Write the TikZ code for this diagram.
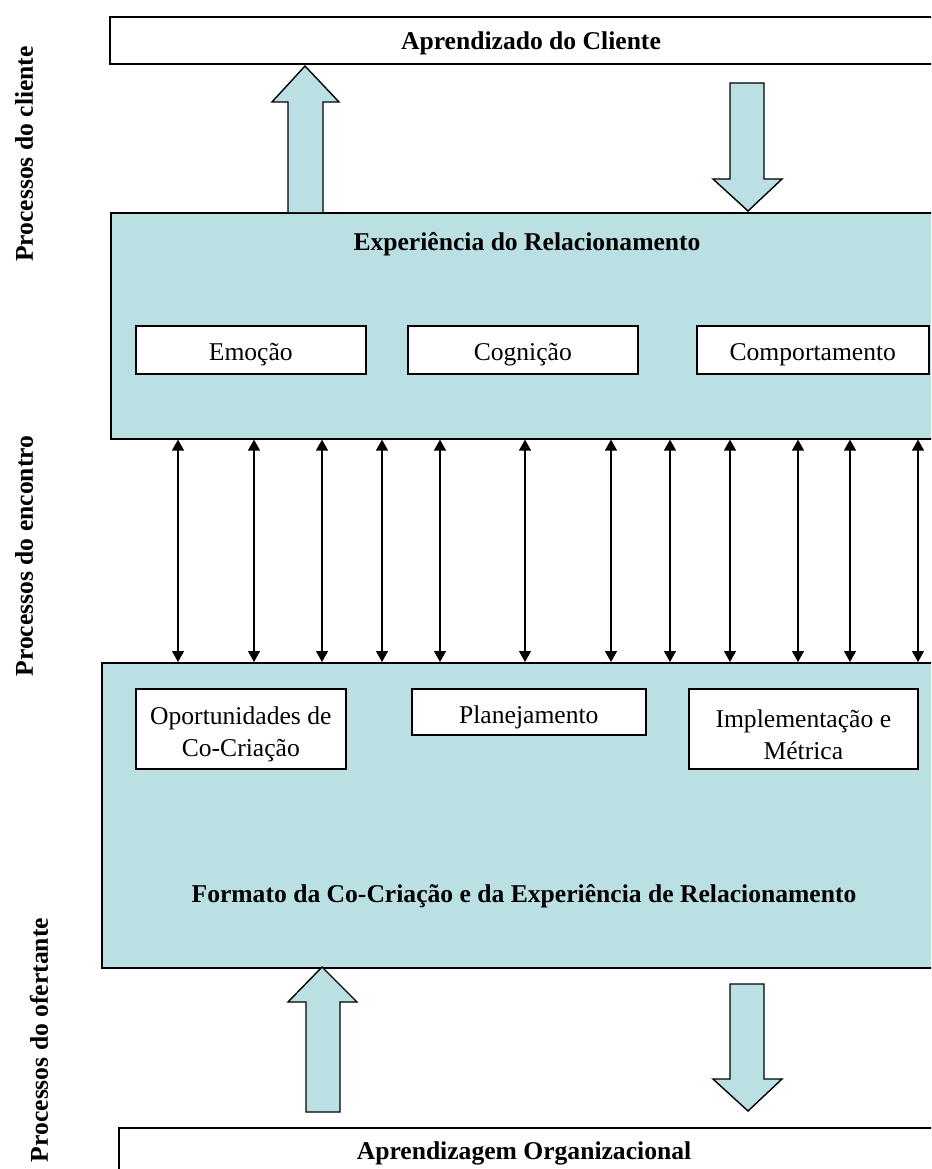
\documentclass[tikz,border=0pt]{standalone}
\usepackage{fontspec}
\setmainfont{Liberation Serif}
\usetikzlibrary{arrows.meta}
\definecolor{panelblue}{RGB}{186,224,228}
\tikzset{
  boxline/.style={draw=black, line width=1.6pt},
  panel/.style={boxline, fill=panelblue, anchor=north west, inner sep=0pt},
  whitebox/.style={boxline, fill=white, anchor=north west, inner sep=0pt},
  lbl/.style={font=\fontsize{25.6}{32}\selectfont, align=center, inner sep=0pt},
  blbl/.style={lbl, font=\fontsize{25.6}{32}\selectfont\bfseries},
  blockarrow/.style={draw=black, line width=1.4pt, fill=panelblue, line join=miter},
  dbl/.style={line width=1.3pt, {Triangle[length=11pt,width=12pt]}-{Triangle[length=11pt,width=12pt]}},
}
\begin{document}
\begin{tikzpicture}[x=1pt,y=-1pt]
\useasboundingbox (0,0) rectangle (931,1169);
\clip (0,0) rectangle (931,1169);
\fill[white] (0,0) rectangle (931,1169);

% big boxes
\node[whitebox, minimum width=850pt, minimum height=47pt] (top) at (109,16) {};
\node[panel, minimum width=850pt, minimum height=226pt] (exp) at (110,212) {};
\node[panel, minimum width=860pt, minimum height=305pt] (fmt) at (101,662) {};
\node[whitebox, minimum width=850pt, minimum height=80pt] (bot) at (118,1127) {};

% titles
\node[blbl] (topt) at (531,43) {Aprendizado do Cliente};
\node[blbl] (expt) at (527,244) {Experiência do Relacionamento};
\node[blbl] (fmtt) at (524,896) {Formato da Co-Criação e da Experiência de Relacionamento};
\node[blbl] (bott) at (524,1153) {Aprendizagem Organizacional};

% inner boxes of experience
\node[whitebox, minimum width=230pt, minimum height=48pt] (emo) at (135,325) {};
\node[lbl] at ([yshift=-5pt]emo.center) {Emoção};
\node[whitebox, minimum width=230pt, minimum height=48pt] (cog) at (407,325) {};
\node[lbl] at ([yshift=-5pt]cog.center) {Cognição};
\node[whitebox, minimum width=232pt, minimum height=48pt] (com) at (696,325) {};
\node[lbl] at ([yshift=-5pt]com.center) {Comportamento};

% inner boxes of format
\node[whitebox, minimum width=210pt, minimum height=80pt] (opo) at (135,688) {};
\node[lbl] at ([yshift=-6pt]opo.center) {Oportunidades de\\Co-Criação};
\node[whitebox, minimum width=234pt, minimum height=46pt] (pla) at (411,688) {};
\node[lbl] at ([yshift=-6pt]pla.center) {Planejamento};
\node[whitebox, minimum width=229pt, minimum height=80pt] (imp) at (688,688) {};
\node[lbl] at ([yshift=-6pt]imp.center) {Implementação e\\Métrica};

% side labels
\node[blbl, rotate=90] (s1) at (24,154) {Processos do cliente};
\node[blbl, rotate=90] (s2) at (24,556) {Processos do encontro};
\node[blbl, rotate=90] (s3) at (39,1040) {Processos do ofertante};

% double arrows between panels
\foreach \i/\x in {1/178,2/254,3/322,4/382,5/440,6/525,7/611,8/670,9/730,10/798,11/850,12/918}{
  \coordinate (c\i) at (\x,0);
  \draw[dbl] (exp.south -| c\i) -- (fmt.north -| c\i);
}

% block arrows
\draw[blockarrow] (288,212) -- (288,102) -- (272,102) -- (305,66) -- (339,102) -- (323,102) -- (323,212);
\draw[blockarrow] (730,83) -- (764,83) -- (764,179) -- (782,179) -- (748,211) -- (713,179) -- (730,179) -- cycle;
\draw[blockarrow] (306,1112) -- (306,1002) -- (288,1002) -- (322,967) -- (357,1002) -- (340,1002) -- (340,1112) -- cycle;
\draw[blockarrow] (730,984) -- (764,984) -- (764,1079) -- (782,1079) -- (748,1111) -- (713,1079) -- (730,1079) -- cycle;
\end{tikzpicture}
\end{document}
